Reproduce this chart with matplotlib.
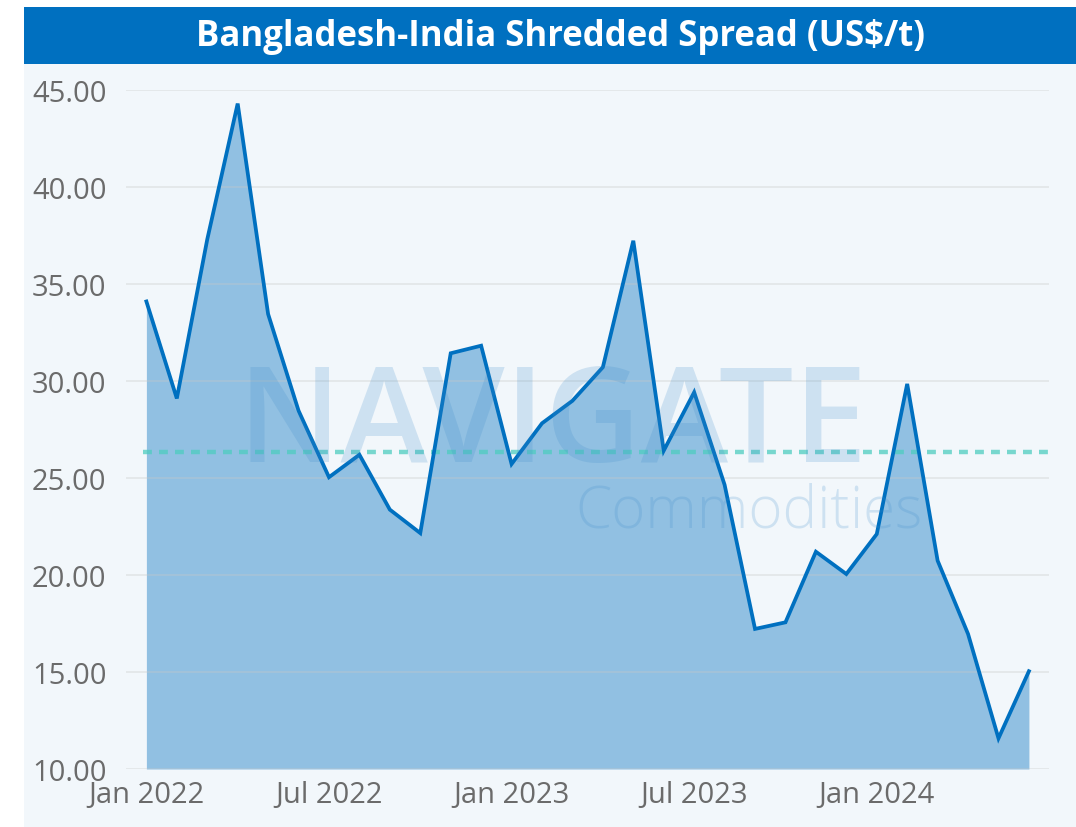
import matplotlib.pyplot as plt
import numpy as np
from matplotlib.patches import Rectangle

# monthly spread values, Jan 2022 .. Jun 2024
spread = [34.1, 29.1, 37.3, 44.3, 33.45, 28.47, 25.04, 26.2, 23.37, 22.16, 31.43, 31.82,
          25.72, 27.82, 28.98, 30.71, 37.23, 26.41, 29.42, 24.65, 17.22, 17.56, 21.2, 20.05,
          22.11, 29.85, 20.74, 16.96, 11.58, 15.04]
tick_pos = [0, 6, 12, 18, 24]
tick_labels = ['Jan 2022', 'Jul 2022', 'Jan 2023', 'Jul 2023', 'Jan 2024']
y_ticks = [10, 15, 20, 25, 30, 35, 40, 45]

plt.rcParams['font.family'] = ['Open Sans', 'DejaVu Sans']

x = np.arange(len(spread))
avg = np.mean(spread)

fig = plt.figure(figsize=(10.76, 8.28), dpi=100)
fig.patch.set_facecolor('white')

# panel background and title bar
fig.patches.append(Rectangle((24/1076, 0), 1, 1 - 65/828, transform=fig.transFigure,
                             facecolor='#F2F7FB', edgecolor='none', zorder=-10))
fig.patches.append(Rectangle((24/1076, 1 - 65/828), 1, 57/828, transform=fig.transFigure,
                             facecolor='#0070C0', edgecolor='none', zorder=-10))
fig.text(561/1076, 1 - 37/828, 'Bangladesh-India Shredded Spread (US$/t)', color='white',
         fontsize=25, fontweight='bold', ha='center', va='center')

ax = fig.add_axes([126/1076, 1 - 770/828, (1049-126)/1076, (770-91)/828])
ax.set_facecolor('none')

ax.fill_between(x, 10, spread, color='#91C0E2', zorder=1, linewidth=0)
ax.plot(x, spread, color='#0070C0', lw=2.7, zorder=4, solid_joinstyle='miter')
ax.axhline(avg, xmin=0.018, xmax=1, color='#4ECDC0', alpha=0.75, lw=3.2,
           linestyle=(0, (2.0, 1.6)), zorder=3)

ax.set_xlim(-0.67, 29.66)
ax.set_ylim(10, 45)
ax.set_yticks(y_ticks)
ax.set_yticklabels(['%.2f' % v for v in y_ticks])
ax.set_xticks(tick_pos)
ax.set_xticklabels(tick_labels)
ax.tick_params(axis='y', length=0, pad=14, labelsize=21, labelcolor='#6B6B6B')
ax.tick_params(axis='x', length=0, pad=8, labelsize=21, labelcolor='#6B6B6B')
ax.grid(axis='y', color='#C8C8C8', alpha=0.35, lw=1.3, zorder=2)
ax.set_axisbelow(False)
for s in ax.spines.values():
    s.set_visible(False)

# watermark
fig.text(238/1076, 1 - 462/828, 'NAVIGATE', fontsize=95, color='#3D8BC9', alpha=0.2,
         fontweight='semibold', ha='left', va='baseline', zorder=5)
fig.text(575/1076, 1 - 528/828, 'Commodities', fontsize=42, color='#3D8BC9', alpha=0.2,
         fontweight='light', ha='left', va='baseline', zorder=5)

plt.savefig('out.png', dpi=100)
